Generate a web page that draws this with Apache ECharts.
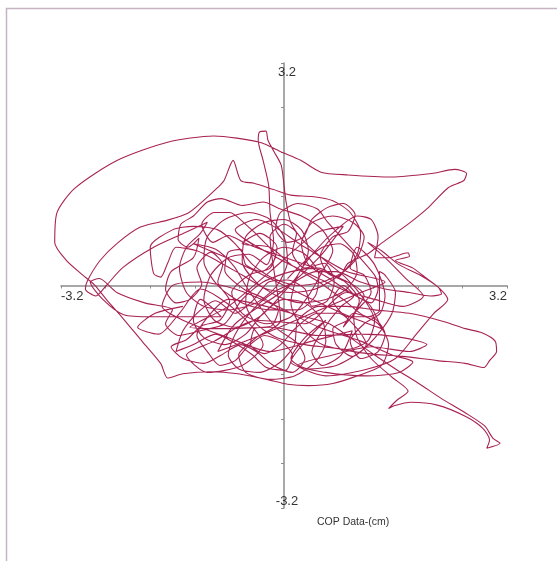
<!DOCTYPE html>
<html><head><meta charset="utf-8">
<script src="https://cdn.jsdelivr.net/npm/echarts@6/dist/echarts.min.js"></script>
<style>html,body{margin:0;padding:0;background:#fff}#c{width:557px;height:561px}</style>
</head><body><div id="c"></div>
<script>
// COP trajectory (cm), traced in order, split into named segments
const centreStart = [[0.05,0.10],[0.30,0.35],[0.55,0.55],[0.80,0.60],[1.00,0.45],[1.05,0.20],[0.90,-0.05],[0.60,-0.20],[0.25,-0.25],[-0.10,-0.15],[-0.40,0.05],[-0.60,0.35],[-0.55,0.70],[-0.30,0.90],[0.00,0.95],[0.25,0.80],[0.35,0.50],[0.20,0.15],[-0.05,-0.15],[-0.35,-0.45],[-0.70,-0.60],[-1.00,-0.50],[-1.15,-0.20],[-1.05,0.15],[-0.80,0.40],[-0.50,0.45],[-0.25,0.30]];
const topSpike = [[-0.15,0.65],[-0.20,1.05],[-0.22,1.44],[-0.30,1.80],[-0.37,2.09],[-0.35,2.21],[-0.26,2.22],[-0.23,2.09],[-0.14,1.92],[-0.04,1.73],[0.00,1.44],[0.03,1.20],[0.10,0.90],[0.30,0.62],[0.60,0.35],[0.90,0.10],[1.15,-0.20],[1.30,-0.50],[1.20,-0.80],[0.90,-0.92],[0.55,-0.85],[0.25,-0.60],[0.10,-0.25],[0.20,0.15],[0.45,0.50],[0.75,0.80],[1.05,1.00],[1.25,0.95],[1.35,0.70],[1.30,0.40]];
const rightBump = [[1.50,0.40],[1.78,0.47],[1.80,0.42],[1.60,0.36],[1.85,0.25],[2.05,0.10],[2.22,-0.03],[2.26,-0.12],[2.10,-0.15],[1.80,-0.10],[1.45,-0.05],[1.10,0.05],[0.75,0.20],[0.45,0.20],[0.15,0.05],[-0.15,-0.10],[-0.45,-0.35],[-0.70,-0.70],[-0.80,-1.00],[-0.65,-1.20],[-0.35,-1.25],[-0.05,-1.10],[0.15,-0.85],[0.20,-0.50]];
const rightExcursion = [[0.50,-0.30],[0.90,-0.30],[1.30,-0.35],[1.80,-0.40],[2.30,-0.52],[2.60,-0.62],[2.84,-0.68],[3.03,-0.80],[3.05,-0.95],[2.95,-1.08],[2.87,-1.18],[2.60,-1.12],[2.20,-1.08],[1.70,-1.02],[1.20,-0.98],[0.70,-0.90],[0.30,-0.85],[-0.10,-0.75],[-0.40,-0.55],[-0.55,-0.25],[-0.50,0.10],[-0.30,0.40],[0.00,0.55],[0.30,0.45],[0.50,0.15],[0.45,-0.15],[0.20,-0.35]];
const leftLoops = [[-0.20,-0.35],[-0.60,-0.25],[-0.95,0.00],[-1.15,0.35],[-1.10,0.70],[-0.85,0.95],[-0.50,1.05],[-0.20,0.95],[0.00,0.70],[0.05,0.35],[-0.10,0.00],[-0.40,-0.25],[-0.80,-0.35],[-1.15,-0.30],[-1.40,-0.10],[-1.50,0.25],[-1.40,0.55],[-1.20,0.75],[-1.10,0.91]];
const leftArcs = [[-1.44,0.75],[-1.87,0.55],[-2.31,0.26],[-2.55,0.00],[-2.70,-0.15],[-2.85,-0.05],[-2.82,0.07],[-2.64,0.36],[-2.39,0.61],[-2.06,0.84],[-1.67,0.94],[-1.38,1.04],[-1.20,1.18],[-0.95,1.41],[-0.86,1.51],[-0.73,1.80],[-0.62,1.51],[-0.43,1.47],[-0.15,1.38],[0.10,1.30],[0.40,1.28]];
const upperLoops = [[0.70,1.22],[0.95,1.05],[1.10,0.75],[1.05,0.45],[0.85,0.20],[0.55,0.05],[0.20,0.00],[-0.15,0.10],[-0.45,0.30],[-0.70,0.60],[-0.95,0.80],[-1.30,0.85],[-1.60,0.80],[-1.92,0.55],[-1.87,0.17],[-1.77,0.12],[-1.67,0.32],[-1.55,0.55],[-1.25,0.50],[-0.95,0.35],[-0.60,0.15],[-0.25,-0.05],[0.10,-0.10],[0.45,-0.05],[0.80,0.15],[1.05,0.40],[1.15,0.70],[1.00,0.90],[0.70,1.00],[0.40,0.90],[0.25,0.60],[0.35,0.30],[0.65,0.10],[0.95,-0.10],[1.25,-0.25],[1.35,-0.05],[1.30,0.15]];
const denseTop = [[0.62,0.92],[0.48,1.10],[0.20,1.18],[-0.05,1.05],[-0.12,0.82],[0.05,0.62],[0.28,0.70],[0.40,0.95],[0.62,1.12],[0.85,1.18],[1.02,1.02],[0.92,0.78],[0.70,0.70],[0.52,0.42],[0.62,0.18],[0.88,0.05],[1.08,-0.22],[0.95,-0.48],[0.70,-0.62],[0.75,-0.85],[0.98,-1.02],[1.18,-0.85],[1.05,-0.62],[0.78,-0.40],[0.48,-0.40],[0.18,-0.60],[-0.05,-0.85],[-0.28,-0.98],[-0.48,-0.85],[-0.42,-0.62],[-0.18,-0.58],[-0.08,-0.35],[-0.30,-0.18],[-0.58,-0.05],[-0.85,0.22],[-0.80,0.48],[-0.62,0.52],[-0.55,0.30],[-0.32,0.20],[-0.12,0.42],[-0.28,0.62],[-0.55,0.88],[-0.78,1.05],[-1.00,1.05],[-1.18,0.88],[-1.02,0.62],[-0.80,0.72],[-0.58,0.62]];
const lowerRightTail = [[1.15,-0.15],[1.00,-0.45],[1.05,-0.75],[1.25,-1.05],[1.55,-1.32],[1.78,-1.52],[1.62,-1.65],[1.50,-1.77],[1.58,-1.73],[1.82,-1.68],[2.20,-1.72],[2.60,-1.88],[2.85,-2.05],[2.95,-2.22],[2.91,-2.34],[3.10,-2.27],[3.00,-2.20],[2.88,-2.02],[2.60,-1.83],[2.25,-1.62],[1.95,-1.42],[1.60,-1.20],[1.30,-1.00],[0.95,-0.75],[0.65,-0.55],[0.30,-0.45]];
const denseBottom = [[-0.80,-0.20],[-1.05,-0.40],[-1.25,-0.72],[-1.10,-0.95],[-0.92,-1.15],[-0.70,-1.08],[-0.52,-0.88],[-0.28,-0.72],[-0.05,-0.80],[0.12,-1.00],[0.02,-1.22],[-0.25,-1.18],[-0.45,-1.00],[-0.72,-0.82],[-0.98,-0.70],[-1.30,-0.85],[-1.55,-0.95],[-1.45,-0.65],[-1.25,-0.40],[-0.98,-0.22],[-0.70,-0.40],[-0.45,-0.22],[-0.22,0.05],[0.05,0.08],[0.30,-0.05],[0.40,-0.30],[0.62,-0.22],[0.72,0.05],[0.58,0.32],[0.30,0.25],[0.12,0.48],[0.18,0.75],[0.00,0.88],[-0.20,0.70]];
const bottomLoops = [[-0.05,-0.50],[-0.40,-0.75],[-0.65,-1.00],[-0.55,-1.25],[-0.20,-1.35],[0.15,-1.30],[0.45,-1.10],[0.60,-0.80],[0.55,-0.50],[0.30,-0.25],[0.00,-0.20],[-0.30,-0.40],[-0.55,-0.70],[-0.85,-0.85],[-1.15,-0.75],[-1.30,-0.50],[-1.20,-0.20],[-0.90,-0.45],[-1.40,-0.45],[-1.90,-0.45],[-2.30,-0.42],[-2.60,-0.20],[-2.78,0.05],[-2.65,0.10],[-2.40,-0.10],[-2.00,-0.25],[-1.60,-0.35],[-1.70,-0.55],[-1.51,-0.72],[-1.20,-0.65],[-0.85,-0.55],[-0.60,-0.20],[-0.30,0.05],[0.10,0.20],[0.50,0.25],[0.78,0.12]];
const bigSweep = [[0.92,0.32],[1.21,0.46],[1.40,0.61],[1.79,0.89],[2.07,1.12],[2.36,1.41],[2.58,1.51],[2.62,1.61],[2.45,1.67],[2.12,1.61],[1.54,1.56],[0.92,1.59],[0.53,1.63],[0.24,1.80],[-0.04,1.92],[-0.35,2.06],[-1.01,2.15],[-1.67,2.06],[-2.39,1.80],[-3.00,1.40],[-3.26,1.04],[-3.29,0.62],[-3.13,0.37],[-2.90,0.16],[-2.72,0.01],[-2.55,-0.20],[-2.33,-0.45],[-2.03,-0.81],[-1.77,-1.12],[-1.67,-1.33],[-1.45,-1.27],[-1.05,-1.24],[-0.66,-1.27],[-0.25,-1.35],[0.05,-1.42],[0.35,-1.44],[0.70,-1.41],[1.05,-1.30],[1.40,-1.15]];
const denseRight = [[1.50,-0.85],[1.35,-0.55],[1.00,-0.40],[0.85,-0.60],[1.05,-0.35],[1.25,-0.10],[1.15,0.15],[0.95,0.25],[1.05,0.55],[1.30,0.30],[1.45,-0.15],[1.38,-0.40],[1.15,-0.55],[0.95,-0.80],[1.10,-1.05],[1.35,-0.95],[1.45,-0.70],[1.25,-0.45],[0.92,-0.45],[0.70,-0.20],[0.85,0.00],[1.00,-0.15],[0.82,-0.30],[0.55,-0.65],[0.40,-0.95],[0.55,-1.15],[0.82,-1.00],[0.98,-0.65]];
const lowerSweep = [[0.40,-0.80],[-0.20,-0.95],[-0.80,-0.75],[-1.45,-0.50],[-1.75,-0.30],[-1.60,0.00],[-1.20,0.05],[-0.70,-0.05],[-0.10,-0.30],[0.50,-0.60],[1.10,-0.80],[1.55,-1.00],[1.85,-1.10],[1.65,-1.25],[1.20,-1.30],[0.60,-1.25],[0.10,-1.10]];
const finalLoops = [[0.60,-0.50],[0.30,-0.75],[0.10,-1.05],[0.35,-1.20],[0.75,-1.15],[1.10,-0.95],[1.35,-0.70],[1.55,-0.40],[1.60,-0.10],[1.45,0.15],[1.37,0.20],[1.37,-0.36],[1.20,-0.45],[0.85,-0.20],[0.50,0.05],[0.10,0.30],[-0.20,0.55],[-0.60,0.60],[-0.35,0.75],[-0.10,0.55],[-0.20,0.25],[-0.50,0.15],[-0.75,-0.10],[-0.60,-0.40],[-0.25,-0.55],[0.10,-0.45],[0.35,-0.15],[0.55,0.20],[0.70,0.50],[0.55,0.80],[0.25,1.00],[-0.05,1.10],[-0.30,1.20],[-0.60,1.15],[-0.90,1.25],[-1.10,1.20]];
const leftJitter = [[-1.30,1.00],[-1.48,0.88],[-1.52,0.66],[-1.38,0.55],[-1.22,0.68],[-1.30,0.40],[-1.62,0.20],[-1.70,-0.05],[-1.55,-0.25],[-1.35,-0.20],[-1.18,0.02],[-1.25,0.25],[-1.05,0.48],[-0.88,0.30],[-0.95,0.05],[-0.78,-0.22],[-0.92,-0.50],[-1.18,-0.58],[-1.40,-0.78],[-1.62,-0.88],[-1.45,-1.05],[-1.15,-1.12],[-0.90,-1.00],[-0.62,-0.85],[-0.40,-0.95],[-0.15,-1.15],[0.12,-1.25],[0.30,-1.05],[0.18,-0.82],[-0.10,-0.62],[-0.35,-0.30],[-0.55,0.00],[-0.72,0.28],[-0.98,0.52],[-1.30,0.60]];
const starStrokes = [[-0.60,0.30],[0.20,-0.10],[0.95,-0.45],[1.40,-0.62],[1.20,-0.25],[0.60,0.05],[-0.10,0.40],[-0.70,0.80],[-0.40,0.95],[0.30,0.55],[0.90,0.20],[1.45,0.05],[1.10,-0.10],[0.40,-0.40],[-0.30,-0.70],[-0.95,-0.95],[-0.70,-0.55],[-0.05,-0.10],[0.50,0.40],[0.85,0.85],[0.45,0.75],[-0.20,0.20],[-0.80,-0.30],[-1.35,-0.60]];
const lowerStrokes = [[-0.80,-0.62],[-0.20,-0.60],[0.50,-0.72],[1.10,-0.70],[1.70,-0.75],[2.05,-0.85],[1.80,-0.95],[1.25,-0.88],[0.70,-1.00],[0.20,-1.15],[0.60,-1.30],[1.20,-1.20],[1.60,-1.05]];
const rightDiagonals = [[1.90,-0.70],[2.15,-0.40],[2.35,-0.20],[2.22,-0.03],[1.95,0.15],[1.65,0.30],[1.40,0.50],[1.20,0.62],[1.45,0.40],[1.75,0.10],[2.00,-0.15],[1.70,-0.30],[1.30,-0.20],[0.90,-0.10]];
const leftBottomExtra = [[0.30,-0.55],[-0.40,-0.50],[-1.00,-0.80],[-1.40,-1.00],[-1.10,-1.25],[-0.60,-1.15],[-0.30,-0.85],[-0.70,-0.35],[-1.20,-0.05],[-1.50,-0.40],[-1.80,-0.70],[-2.10,-0.60],[-1.85,-0.40],[-1.45,-0.30]];

const axisMin = -3.2, axisMax = 3.2, axisStep = 0.64;
const axisTitle = 'COP Data-(cm)';

const path = [].concat(centreStart, topSpike, rightBump, rightExcursion, leftLoops, leftArcs, upperLoops, denseTop, lowerRightTail, denseBottom, bottomLoops, bigSweep, denseRight, lowerSweep, finalLoops, leftJitter, starStrokes, lowerStrokes, rightDiagonals, leftBottomExtra);

// layout of the visible axes box
const G = {left: 61, right: 50, top: 63, bottom: 53, w: 446, h: 445};
// wider hidden box with the same scale so that the trace may leave the ±3.2 square
const pad = 0.32;
const pxX = G.w / (axisMax - axisMin), pxY = G.h / (axisMax - axisMin);

const chart = echarts.init(document.getElementById('c'), null, {renderer:'canvas'});
const endLabel = v => (Math.abs(Math.abs(v) - axisMax) < 1e-6 ? String(Math.round(v*10)/10) : '');
const lbl = {fontFamily:'Liberation Sans, Arial', fontSize:13, color:'#333'};
chart.setOption({
  animation: false,
  backgroundColor: '#ffffff',
  title: {text: axisTitle, left: 312, top: 512, textStyle:{fontFamily:'Liberation Sans, Arial', fontSize:10.5, fontWeight:'normal', color:'#333'}},
  grid: [
    {left: G.left, right: G.right, top: G.top, bottom: G.bottom},
    {left: G.left - pad*pxX, right: G.right - pad*pxX, top: G.top - pad*pxY, bottom: G.bottom - pad*pxY}
  ],
  xAxis: [
    {gridIndex:0, type:'value', min:axisMin, max:axisMax, interval:axisStep, position:'bottom', offset:-G.h/2,
     splitLine:{show:false}, axisLine:{onZero:false, lineStyle:{color:'#8c8c8c', width:1.5}},
     axisTick:{length:3, lineStyle:{color:'#8c8c8c'}},
     axisLabel:Object.assign({formatter:endLabel, margin:4, alignMinLabel:'left', alignMaxLabel:'right'}, lbl)},
    {gridIndex:1, type:'value', min:axisMin-pad, max:axisMax+pad, show:false}
  ],
  yAxis: [
    {gridIndex:0, type:'value', min:axisMin, max:axisMax, interval:axisStep, position:'left', offset:-G.w/2,
     splitLine:{show:false}, axisLine:{onZero:false, lineStyle:{color:'#8c8c8c', width:1.5}},
     axisTick:{length:3, lineStyle:{color:'#8c8c8c'}},
     axisLabel:Object.assign({formatter:endLabel, margin:-3, align:'center', padding:[3,0,0,0], verticalAlignMinLabel:'bottom', verticalAlignMaxLabel:'top'}, lbl)},
    {gridIndex:1, type:'value', min:axisMin-pad, max:axisMax+pad, show:false}
  ],
  graphic: [{type:'rect', left:4, top:6, shape:{width:580, height:580}, style:{fill:'none', stroke:'#c7b4c2', lineWidth:1.5}}],
  series: [{
    type:'line', xAxisIndex:1, yAxisIndex:1, data: path, showSymbol:false, smooth:0.25,
    lineStyle:{color:'#a82353', width:1.1}
  }]
});
</script></body></html>
